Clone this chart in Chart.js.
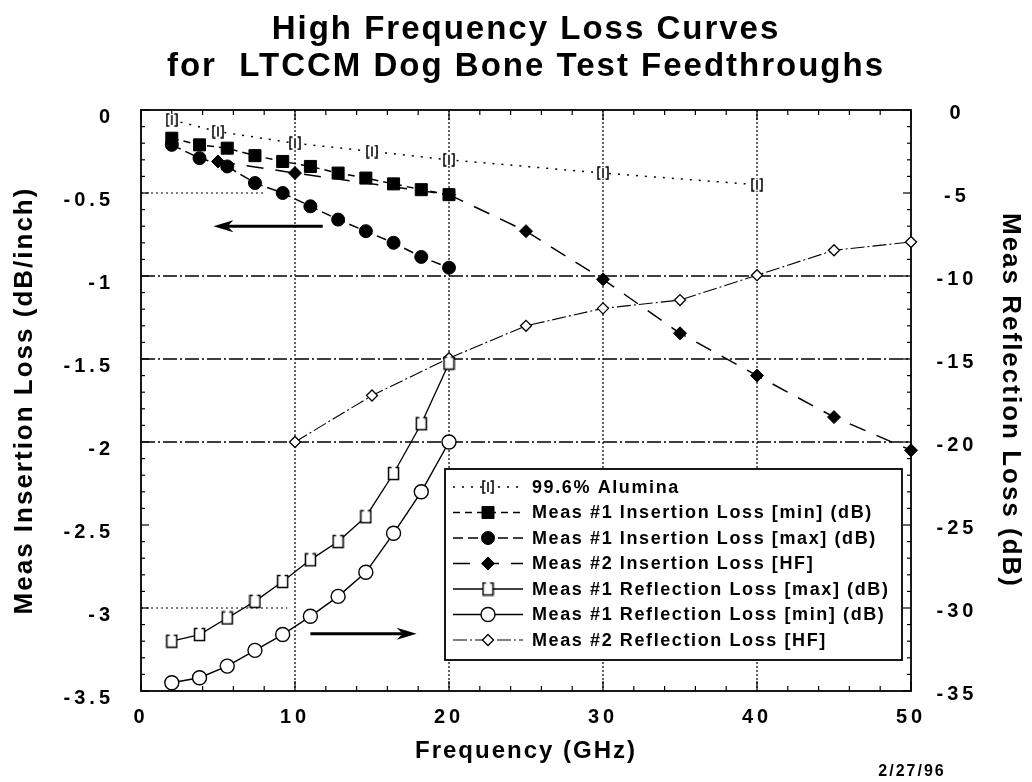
<!DOCTYPE html>
<html><head><meta charset="utf-8">
<style>html,body{margin:0;padding:0;background:#fff;}canvas{display:block;}</style>
<script src="https://cdn.jsdelivr.net/npm/chart.js@4.4.1/dist/chart.umd.min.js"></script>
</head><body>
<canvas id="c" width="1032" height="782"></canvas>
<script>
// ---- texts ----
const chartTitle = ['High Frequency Loss Curves', 'for  LTCCM Dog Bone Test Feedthroughs'];
const xTitle = 'Frequency (GHz)';
const yLeftTitle = 'Meas Insertion Loss (dB/inch)';
const yRightTitle = 'Meas Reflection Loss (dB)';
const dateStamp = '2/27/96';

// ---- tick labels ----
const xTicks = [0, 10, 20, 30, 40, 50];
const yLeftTicks = [0, -0.5, -1, -1.5, -2, -2.5, -3, -3.5];
const yRightTicks = [0, -5, -10, -15, -20, -25, -30, -35];

// ---- data ----
const freqAlumina = [2, 5, 10, 15, 20, 30, 40];
const alumina = [-0.06, -0.13, -0.20, -0.25, -0.30, -0.38, -0.45];

const freqMeas1 = [2, 3.8, 5.6, 7.4, 9.2, 11, 12.8, 14.6, 16.4, 18.2, 20];
const ilMin = [-0.17, -0.21, -0.23, -0.275, -0.31, -0.34, -0.38, -0.41, -0.445, -0.48, -0.51];
const ilMax = [-0.21, -0.29, -0.34, -0.44, -0.50, -0.58, -0.66, -0.73, -0.80, -0.885, -0.95];
const rlMax = [-32.0, -31.6, -30.6, -29.6, -28.4, -27.1, -26.0, -24.5, -21.9, -18.9, -15.25];
const rlMin = [-34.5, -34.2, -33.5, -32.55, -31.6, -30.5, -29.3, -27.85, -25.5, -23.0, -20.0];

const freqIlHF = [5, 10, 20, 25, 30, 35, 40, 45, 50];
const ilHF = [-0.31, -0.38, -0.51, -0.73, -1.02, -1.345, -1.60, -1.85, -2.05];

const freqRlHF = [10, 15, 20, 25, 30, 35, 40, 45, 50];
const rlHF = [-20.0, -17.2, -14.95, -13.0, -11.95, -11.45, -9.95, -8.45, -7.95];

const seriesLabels = [
  '99.6% Alumina',
  'Meas #1 Insertion Loss [min] (dB)',
  'Meas #1 Insertion Loss [max] (dB)',
  'Meas #2 Insertion Loss [HF]',
  'Meas #1 Reflection Loss [max] (dB)',
  'Meas #1 Reflection Loss [min] (dB)',
  'Meas #2 Reflection Loss [HF]'
];

// arrows in data coordinates: which y axis, start, end
const arrowNotes = [
  {axis: 'y', from: [11.8, -0.70], to: [4.7, -0.70]},
  {axis: 'y2', from: [11.0, -31.55], to: [17.9, -31.55]}
];

const FONT = "'Liberation Sans', Arial, Helvetica, sans-serif";

function pts(xs, ys) { return xs.map((x, i) => ({x: x, y: ys[i]})); }

function aluminaMarker() {
  const c = document.createElement('canvas'); c.width = 12; c.height = 14;
  const g = c.getContext('2d');
  g.fillStyle = '#fff'; g.fillRect(1, 1, 10, 12);
  g.strokeStyle = '#000'; g.lineWidth = 1.5;
  g.beginPath();
  g.moveTo(3.5, 1); g.lineTo(1, 1); g.lineTo(1, 13); g.lineTo(3.5, 13);
  g.moveTo(8.5, 1); g.lineTo(11, 1); g.lineTo(11, 13); g.lineTo(8.5, 13);
  g.moveTo(6, 2); g.lineTo(6, 12);
  g.stroke();
  return c;
}
function rlMaxMarker() {
  const c = document.createElement('canvas'); c.width = 13; c.height = 15;
  const g = c.getContext('2d');
  g.fillStyle = '#fff'; g.fillRect(1, 1, 11, 13);
  g.strokeStyle = '#000'; g.lineWidth = 1.5;
  g.beginPath();
  g.moveTo(4.5, 1.5); g.lineTo(1.5, 1.5); g.lineTo(1.5, 13.5); g.lineTo(11.5, 13.5); g.lineTo(11.5, 1.5); g.lineTo(8.5, 1.5);
  g.stroke();
  return c;
}
const mAlumina = aluminaMarker();
const mRlMax = rlMaxMarker();

const datasets = [
  {label: seriesLabels[0], data: pts(freqAlumina, alumina), yAxisID: 'y',
   borderColor: '#000', borderWidth: 1.5, borderDash: [2, 7],
   pointStyle: mAlumina, pointRadius: 6, backgroundColor: '#000'},
  {label: seriesLabels[1], data: pts(freqMeas1, ilMin), yAxisID: 'y',
   borderColor: '#000', borderWidth: 1.5, borderDash: [7, 5],
   pointStyle: 'rect', pointRadius: 8.5, pointBackgroundColor: '#000', pointBorderColor: '#000', pointBorderWidth: 1},
  {label: seriesLabels[2], data: pts(freqMeas1, ilMax), yAxisID: 'y',
   borderColor: '#000', borderWidth: 1.5, borderDash: [10, 5],
   pointStyle: 'circle', pointRadius: 6.5, pointBackgroundColor: '#000', pointBorderColor: '#000', pointBorderWidth: 1},
  {label: seriesLabels[3], data: pts(freqIlHF, ilHF), yAxisID: 'y',
   borderColor: '#000', borderWidth: 1.5, borderDash: [17, 12],
   pointStyle: 'rectRot', pointRadius: 6.5, pointBackgroundColor: '#000', pointBorderColor: '#000', pointBorderWidth: 1},
  {label: seriesLabels[4], data: pts(freqMeas1, rlMax), yAxisID: 'y2',
   borderColor: '#000', borderWidth: 1.3, borderDash: [],
   pointStyle: mRlMax, pointRadius: 6},
  {label: seriesLabels[5], data: pts(freqMeas1, rlMin), yAxisID: 'y2',
   borderColor: '#000', borderWidth: 1.4, borderDash: [],
   pointStyle: 'circle', pointRadius: 7, pointBackgroundColor: '#fff', pointBorderColor: '#000', pointBorderWidth: 1.4},
  {label: seriesLabels[6], data: pts(freqRlHF, rlHF), yAxisID: 'y2',
   borderColor: '#000', borderWidth: 1.1, borderDash: [14, 3, 2, 3],
   pointStyle: 'rectRot', pointRadius: 5.5, pointBackgroundColor: '#fff', pointBorderColor: '#000', pointBorderWidth: 1.3}
];
datasets.forEach(d => { d.fill = false; d.tension = 0; d.clip = false; });

// letter spacing control: tick labels wider, other text narrower
const spacingPlugin = {
  id: 'spacing',
  beforeUpdate(chart) { chart.ctx.letterSpacing = '4px'; },
  beforeLayout(chart) { chart.ctx.letterSpacing = '4px'; },
  beforeDraw(chart) { chart.ctx.letterSpacing = '2px'; },
  afterDatasetsDraw(chart) { chart.ctx.letterSpacing = '4px'; }
};

function hline(ctx, x1, x2, y) { ctx.beginPath(); ctx.moveTo(x1, y); ctx.lineTo(x2, y); ctx.stroke(); }
function vline(ctx, x, y1, y2) { ctx.beginPath(); ctx.moveTo(x, y1); ctx.lineTo(x, y2); ctx.stroke(); }

const framePlugin = {
  id: 'frame',
  beforeDatasetsDraw(chart) {
    const {ctx, chartArea: a, scales} = chart;
    const x = scales.x, y = scales.y;
    ctx.save();
    ctx.strokeStyle = '#000';
    // vertical dotted grid
    ctx.lineWidth = 1.2; ctx.setLineDash([2, 2]);
    [10, 20, 30, 40].forEach(v => vline(ctx, x.getPixelForValue(v), a.top, a.bottom));
    // horizontal grid
    ctx.lineWidth = 1.3; ctx.setLineDash([14, 3, 2, 3]);
    [-1, -1.5, -2].forEach(v => hline(ctx, a.left, a.right, y.getPixelForValue(v)));
    ctx.lineWidth = 1.1; ctx.setLineDash([2, 3]);
    hline(ctx, a.left, x.getPixelForValue(8), y.getPixelForValue(-0.5));
    hline(ctx, a.left, x.getPixelForValue(9.5), y.getPixelForValue(-3));
    // frame
    ctx.setLineDash([]); ctx.lineWidth = 1.8;
    ctx.strokeRect(a.left, a.top, a.right - a.left, a.bottom - a.top);
    // minor ticks
    ctx.lineWidth = 1.2;
    for (let f = 0; f <= 50; f += 2) {
      const px = x.getPixelForValue(f);
      const len = (f % 10 === 0) ? 10 : 5;
      vline(ctx, px, a.top, a.top + len);
      vline(ctx, px, a.bottom, a.bottom - len);
    }
    for (let k = 0; k <= 35; k++) {
      const py = y.getPixelForValue(-k / 10);
      const len = (k % 5 === 0) ? 8 : 4;
      hline(ctx, a.left, a.left + len, py);
      hline(ctx, a.right, a.right - len, py);
    }
    ctx.restore();
  },
  afterDraw(chart) {
    const {ctx, scales} = chart;
    ctx.save();
    // arrows
    ctx.fillStyle = '#000'; ctx.strokeStyle = '#000';
    arrowNotes.forEach(n => {
      const ys = scales[n.axis];
      const x1 = scales.x.getPixelForValue(n.from[0]), y1 = ys.getPixelForValue(n.from[1]);
      const x2 = scales.x.getPixelForValue(n.to[0]), y2 = ys.getPixelForValue(n.to[1]);
      const dir = Math.sign(x2 - x1);
      ctx.lineWidth = 3; ctx.setLineDash([]);
      hline(ctx, x1, x2 - dir * 14, y1);
      ctx.beginPath();
      ctx.moveTo(x2, y2); ctx.lineTo(x2 - dir * 20, y2 - 6); ctx.lineTo(x2 - dir * 14, y2); ctx.lineTo(x2 - dir * 20, y2 + 6);
      ctx.closePath(); ctx.fill();
    });
    // legend
    const L = {left: 445, top: 469, right: 902, bottom: 660};
    ctx.fillStyle = '#fff';
    ctx.fillRect(L.left, L.top, L.right - L.left, L.bottom - L.top);
    ctx.lineWidth = 1.8; ctx.strokeStyle = '#000';
    ctx.strokeRect(L.left, L.top, L.right - L.left, L.bottom - L.top);
    const rows = [487, 512.5, 538, 563.5, 589, 614.5, 640];
    ctx.font = 'bold 18px ' + FONT;
    ctx.textBaseline = 'middle'; ctx.textAlign = 'left';
    chart.data.datasets.forEach((d, i) => {
      const ry = rows[i];
      ctx.strokeStyle = '#000'; ctx.lineWidth = d.borderWidth;
      ctx.setLineDash(d.borderDash || []);
      hline(ctx, 453, 523, ry);
      ctx.setLineDash([]);
      const mx = 488;
      const ps = d.pointStyle;
      if (typeof ps === 'object') {
        ctx.drawImage(ps, mx - ps.width / 2, ry - ps.height / 2);
      } else {
        ctx.fillStyle = d.pointBackgroundColor; ctx.lineWidth = d.pointBorderWidth;
        const r = d.pointRadius;
        ctx.beginPath();
        if (ps === 'circle') ctx.arc(mx, ry, r, 0, Math.PI * 2);
        else if (ps === 'rect') { const s = r * Math.SQRT1_2; ctx.rect(mx - s, ry - s, 2 * s, 2 * s); }
        else if (ps === 'rectRot') { ctx.moveTo(mx, ry - r); ctx.lineTo(mx + r, ry); ctx.lineTo(mx, ry + r); ctx.lineTo(mx - r, ry); ctx.closePath(); }
        ctx.fill(); ctx.stroke();
      }
      ctx.fillStyle = '#000';
      ctx.letterSpacing = '1.6px';
      ctx.fillText(d.label, 532, ry + 1);
    });
    // date stamp
    ctx.font = 'bold 16px ' + FONT; ctx.letterSpacing = '2px';
    ctx.textAlign = 'center';
    ctx.fillText(dateStamp, 912, 772);
    ctx.restore();
  }
};

const tickFont = {family: FONT, size: 20, weight: 'bold', lineHeight: 1.2};
const axisTitleFont = {family: FONT, size: 26, weight: 'bold', lineHeight: 1.2};

new Chart(document.getElementById('c'), {
  type: 'line',
  data: {datasets: datasets},
  plugins: [spacingPlugin, framePlugin],
  options: {
    responsive: false,
    animation: false,
    devicePixelRatio: 1,
    layout: {padding: 0},
    plugins: {
      legend: {display: false},
      tooltip: {enabled: false},
      title: {
        display: true, text: chartTitle, color: '#000', fullSize: false,
        font: {family: FONT, size: 33, weight: 'bold', lineHeight: 1.1},
        padding: {top: 12, bottom: 25.4}
      }
    },
    scales: {
      x: {
        type: 'linear', position: 'bottom', min: 0, max: 50,
        afterBuildTicks: s => { s.ticks = xTicks.map(v => ({value: v})); },
        afterFit: s => { s.height = 91; },
        grid: {display: false, drawTicks: false},
        border: {display: false},
        ticks: {color: '#000', font: tickFont, padding: 14, z: 1, maxRotation: 0, callback: v => String(v)},
        title: {display: true, text: xTitle, color: '#000', font: {family: FONT, size: 24, weight: 'bold', lineHeight: 1.2}, padding: {top: 0, bottom: 16}}
      },
      y: {
        type: 'linear', position: 'left', min: -3.5, max: 0,
        afterBuildTicks: s => { s.ticks = yLeftTicks.map(v => ({value: v})); },
        afterFit: s => { s.width = 141; },
        grid: {display: false, drawTicks: false},
        border: {display: false},
        ticks: {color: '#000', font: tickFont, padding: 27, labelOffset: 7, z: 1, callback: v => String(v)},
        title: {display: true, text: yLeftTitle, color: '#000', font: axisTitleFont, padding: {top: 9, bottom: 0}}
      },
      y2: {
        type: 'linear', position: 'right', min: -35, max: 0,
        afterBuildTicks: s => { s.ticks = yRightTicks.map(v => ({value: v})); },
        afterFit: s => { s.width = 121; },
        grid: {display: false, drawTicks: false},
        border: {display: false},
        ticks: {color: '#000', font: tickFont, padding: 25.5, labelOffset: 3, z: 1, crossAlign: 'center', callback: v => String(v)},
        title: {display: true, text: yRightTitle, color: '#000', font: axisTitleFont, padding: {top: 6.5, bottom: 0}}
      }
    }
  }
});
</script>
</body></html>
